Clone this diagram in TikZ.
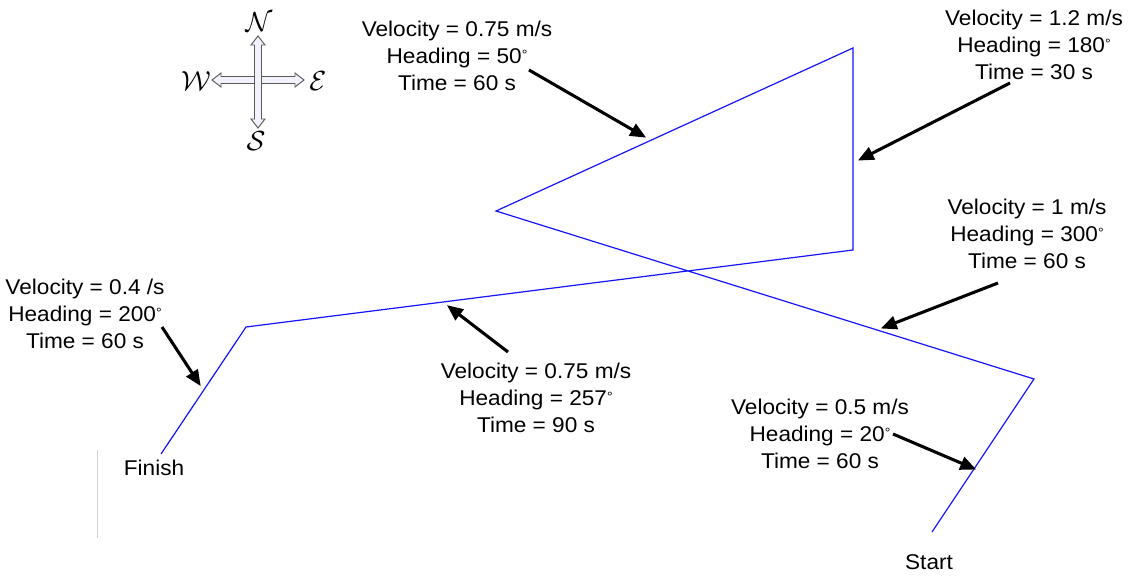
\documentclass[tikz,border=0pt]{standalone}
\usepackage{fontspec}
\setmainfont[FakeStretch=1.06]{Liberation Sans}
\usetikzlibrary{arrows.meta}
\newcommand{\dg}{\raisebox{0.2em}{\fontsize{10}{10}\selectfont\textdegree}}
\tikzset{
  route/.style={draw={rgb,255:red,20;green,20;blue,255}, line width=0.9pt},
  pointer/.style={draw=black, line width=2.3pt, -{Triangle[length=12pt,width=10pt]}, shorten >=-1pt},
  info/.style={align=center, inner sep=0pt, font=\fontsize{16}{20.3}\selectfont},
  plain/.style={inner sep=0pt, font=\fontsize{16}{20.3}\selectfont},
  compassarrow/.style={draw=black!65, fill=blue!5, line width=0.7pt},
  compassletter/.style={inner sep=0pt, font=\fontsize{20}{22}\selectfont}
}
\begin{document}
\begin{tikzpicture}[x=0.75pt,y=-0.75pt]
\useasboundingbox (0,0) rectangle (1134,581);
% route
\coordinate (start) at (932,532);
\coordinate (p1) at (1034,379);
\coordinate (p2) at (496,211);
\coordinate (p3) at (853,48);
\coordinate (p4) at (853,250);
\coordinate (p5) at (246,327);
\coordinate (finishpt) at (161,454);
\draw[route] (start) -- (p1) -- (p2) -- (p3) -- (p4) -- (p5) -- (finishpt);
% faint line
\coordinate (f1) at (97,450);
\coordinate (f2) at (97,538);
\draw[black!18, line width=0.6pt] (f1) -- (f2);
% labels
\node[info] (l1) at (457,56) {Velocity = 0.75 m/s\\Heading = 50\dg\\Time = 60 s};
\node[info] (l2) at (1034,45) {Velocity = 1.2 m/s\\Heading = 180\dg\\Time = 30 s};
\node[info] (l3) at (1027,234) {Velocity = 1 m/s\\Heading = 300\dg\\Time = 60 s};
\node[info] (l4) at (85,314) {Velocity = 0.4 /s\\Heading = 200\dg\\Time = 60 s};
\node[info] (l5) at (536,398) {Velocity = 0.75 m/s\\Heading = 257\dg\\Time = 90 s};
\node[info] (l6) at (820,434) {Velocity = 0.5 m/s\\Heading = 20\dg\\Time = 60 s};
\node[plain] (finish) at (154,468) {Finish};
\node[plain] (startlbl) at (929,562) {Start};
% pointer arrows
\coordinate (a1s) at (529,70);  \coordinate (a1e) at (645,137);
\coordinate (a2s) at (1010,83); \coordinate (a2e) at (859,160);
\coordinate (a3s) at (998,283); \coordinate (a3e) at (882,328);
\coordinate (a4s) at (508,352); \coordinate (a4e) at (448,306);
\coordinate (a5s) at (162,327); \coordinate (a5e) at (200,385);
\coordinate (a6s) at (893,434); \coordinate (a6e) at (975,469);
\draw[pointer] (a1s) -- (a1e);
\draw[pointer] (a2s) -- (a2e);
\draw[pointer] (a3s) -- (a3e);
\draw[pointer] (a4s) -- (a4e);
\draw[pointer] (a5s) -- (a5e);
\draw[pointer] (a6s) -- (a6e);
% compass
\draw[compassarrow] (212,80) -- (221,73) -- (221,76.5) -- (295,76.5) -- (295,73) -- (304,80) -- (295,87) -- (295,83.5) -- (221,83.5) -- (221,87) -- cycle;
\draw[compassarrow] (258,36) -- (265,45) -- (261.5,45) -- (261.5,119) -- (265,119) -- (258,128) -- (251,119) -- (254.5,119) -- (254.5,45) -- (251,45) -- cycle;
\node[compassletter] (north) at (259,22) {$\mathcal{N}$};
\node[compassletter] (south) at (256,141) {$\mathcal{S}$};
\node[compassletter] (west) at (196,81) {$\mathcal{W}$};
\node[compassletter] (east) at (318,81) {$\mathcal{E}$};
\end{tikzpicture}
\end{document}
